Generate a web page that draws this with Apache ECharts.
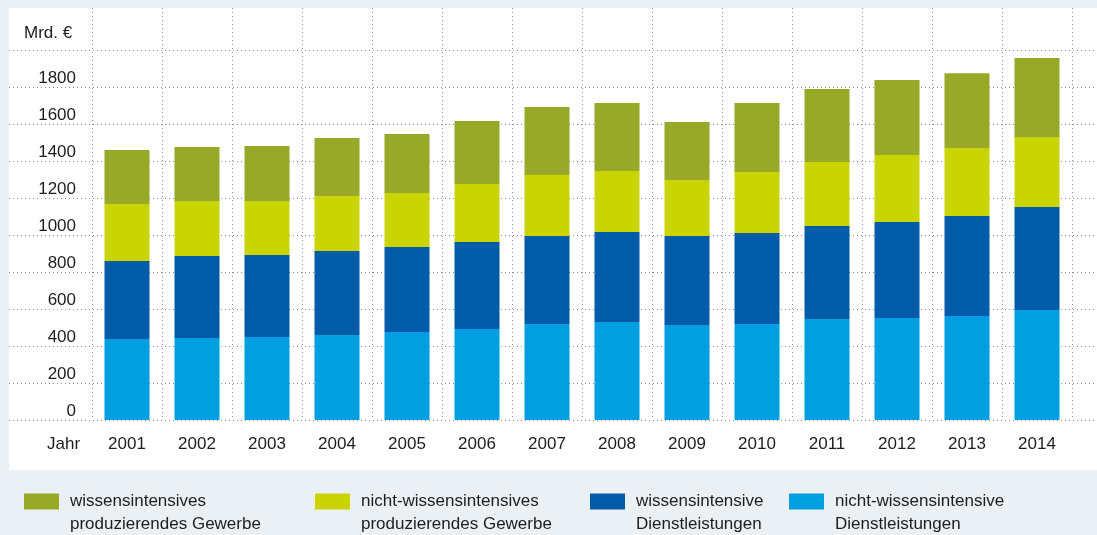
<!DOCTYPE html>
<html>
<head>
<meta charset="utf-8">
<script src="https://cdn.jsdelivr.net/npm/echarts@6/dist/echarts.min.js"></script>
<style>
html,body{margin:0;padding:0;background:#ebf0f4;}
#chart{width:1097px;height:535px;}
</style>
</head>
<body>
<div id="chart"></div>
<script>
const years = ['2001','2002','2003','2004','2005','2006','2007','2008','2009','2010','2011','2012','2013','2014'];
const yTicks = [0,200,400,600,800,1000,1200,1400,1600,1800,2000];
const nichtWissDienst = [438,443,449,459,476,492,519,530,513,519,546,551,562,595];
const wissDienst      = [421,443,443,454,459,470,475,486,481,492,503,519,541,556];
const nichtWissProd   = [308,298,292,298,292,314,330,330,303,329,345,362,367,379];
const wissProd        = [292,292,297,313,319,340,368,367,314,373,395,406,405,427];
const seriesNames = [
  'wissensintensives produzierendes Gewerbe',
  'nicht-wissensintensives produzierendes Gewerbe',
  'wissensintensive Dienstleistungen',
  'nicht-wissensintensive Dienstleistungen'
];
const legendLabels = {
  'wissensintensives produzierendes Gewerbe': 'wissensintensives\nproduzierendes Gewerbe',
  'nicht-wissensintensives produzierendes Gewerbe': 'nicht-wissensintensives\nproduzierendes Gewerbe',
  'wissensintensive Dienstleistungen': 'wissensintensive\nDienstleistungen',
  'nicht-wissensintensive Dienstleistungen': 'nicht-wissensintensive\nDienstleistungen'
};
const colors = ['#98a829','#c9d400','#005ca9','#009fe2'];

const FONT = "'Liberation Sans Narrow','Liberation Sans',sans-serif";
const TXT = '#1d1d1b';
const dotted = {color:'#8c8c8c', width:1, type:[1,3]};

const chart = echarts.init(document.getElementById('chart'), null, {renderer:'canvas'});

const legendLefts = [24, 315, 590, 789];
const legends = seriesNames.map((n,i)=>({
  data:[n], left:legendLefts[i], top:467, padding:0, orient:'horizontal',
  itemWidth:35, itemHeight:16, itemGap:0, icon:'rect',
  selectedMode:false,
  formatter: name => ' \n' + legendLabels[name],
  textStyle:{fontFamily:FONT, fontSize:17, color:TXT, lineHeight:23, padding:[0,0,0,6]}
}));

const option = {
  backgroundColor:'#ebf0f4',
  animation:false,
  graphic:[
    {type:'rect', left:9, top:8, shape:{width:1088, height:462}, style:{fill:'#ffffff'}, z:-10},
    {type:'text', left:24, top:25, style:{text:'Mrd. €', fontFamily:FONT, fontSize:17, fill:TXT}},
    {type:'text', left:47, top:436, style:{text:'Jahr', fontFamily:FONT, fontSize:17, fill:TXT}}
  ],
  legend: legends,
  grid:[
    {left:92, right:25, top:50, bottom:115},
    {left:9, right:0, top:50, bottom:115},
    {left:92, right:25, top:8, bottom:115}
  ],
  xAxis:[
    {gridIndex:0, type:'category', data:years, boundaryGap:true,
     axisLine:{show:false}, axisTick:{show:false}, splitLine:{show:false},
     axisLabel:{fontFamily:FONT, fontSize:17, color:TXT, margin:16}},
    {gridIndex:1, type:'category', data:years, show:false},
    {gridIndex:2, type:'category', data:years, boundaryGap:true,
     axisLine:{show:false}, axisTick:{show:false}, axisLabel:{show:false},
     splitLine:{show:true, lineStyle:dotted, showMinLine:true, showMaxLine:true}}
  ],
  yAxis:[
    {gridIndex:0, type:'value', min:yTicks[0], max:yTicks[yTicks.length-1], interval:200,
     axisLine:{show:false}, axisTick:{show:false}, splitLine:{show:false},
     axisLabel:{fontFamily:FONT, fontSize:17, color:TXT, margin:16, verticalAlign:'bottom', padding:[0,0,0,0],
       formatter: v => v===2000 ? '' : String(v)}},
    {gridIndex:1, type:'value', min:0, max:2000, interval:200,
     axisLine:{show:false}, axisTick:{show:false}, axisLabel:{show:false},
     splitLine:{show:true, lineStyle:dotted}},
    {gridIndex:2, type:'value', min:0, max:2000, show:false, splitLine:{show:false}}
  ],
  series:[
    {name:seriesNames[3], type:'bar', stack:'a', data:nichtWissDienst, barWidth:45, itemStyle:{color:colors[3]}},
    {name:seriesNames[2], type:'bar', stack:'a', data:wissDienst, barWidth:45, itemStyle:{color:colors[2]}},
    {name:seriesNames[1], type:'bar', stack:'a', data:nichtWissProd, barWidth:45, itemStyle:{color:colors[1]}},
    {name:seriesNames[0], type:'bar', stack:'a', data:wissProd, barWidth:45, itemStyle:{color:colors[0]}}
  ]
};
chart.setOption(option);
</script>
</body>
</html>
